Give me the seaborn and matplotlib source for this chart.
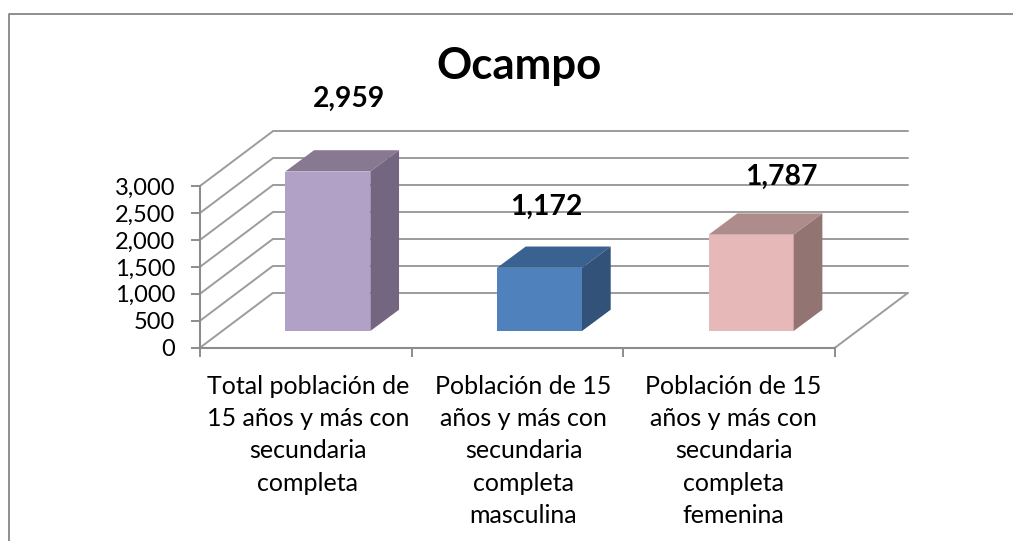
import matplotlib
matplotlib.use("Agg")
import matplotlib.pyplot as plt
import seaborn as sns
from matplotlib.lines import Line2D
from matplotlib.patches import Polygon

title = "Ocampo"
categories = [
    "Total población de\n15 años y más con\nsecundaria\ncompleta",
    "Población de 15\naños y más con\nsecundaria\ncompleta\nmasculina",
    "Población de 15\naños y más con\nsecundaria\ncompleta\nfemenina",
]
values = [2959, 1172, 1787]
value_labels = ["2,959", "1,172", "1,787"]
y_ticks = [0, 500, 1000, 1500, 2000, 2500, 3000]
face_colors = ["#B2A1C7", "#4F81BD", "#E6B9B8"]
top_colors = ["#897892", "#3A6291", "#AE8C8B"]
side_colors = ["#746580", "#33527A", "#927472"]

W, H = 1013, 541
sns.set_theme(style="white")
plt.rcParams["font.family"] = ["Lato", "DejaVu Sans"]
fig = plt.figure(figsize=(W / 100, H / 100), dpi=100, facecolor="white")


def box(x0, y_bottom, w, h):
    return [x0 / W, (H - y_bottom) / H, w / W, h / H]


PLOT_W, PLOT_H = 635.0, 161.7
GRID = "#9C9C9C"
AXIS = "#8C8C8C"

# Front plane of the chart box: holds axis, ticks, walls
ax = fig.add_axes(box(200, 347.7, PLOT_W, PLOT_H), zorder=1)
ax.set_xlim(-0.5, 2.5)
ax.set_ylim(0, 3000)
ax.patch.set_alpha(0)
sns.despine(ax=ax, top=True, right=True)
for s in ("left", "bottom"):
    ax.spines[s].set_color(AXIS)
    ax.spines[s].set_linewidth(1.5)

px_x = 3 / PLOT_W       # data units per pixel
px_y = 3000 / PLOT_H
wall_dx, wall_dy = 72.5 * px_x, 54.5 * px_y

for v in y_ticks:
    ax.plot([-0.5, -0.5 + wall_dx], [v, v + wall_dy], color=GRID, lw=1.4, clip_on=False, zorder=1)
    ax.plot([-0.5 + wall_dx, 2.5 + wall_dx], [v + wall_dy, v + wall_dy], color=GRID, lw=1.4, clip_on=False, zorder=1)
ax.plot([2.5, 2.5 + wall_dx], [0, wall_dy], color=GRID, lw=1.4, clip_on=False, zorder=1)

ax.set_yticks(y_ticks)
ax.set_yticklabels([f"{v:,}" for v in y_ticks], fontsize=17, color="black")
ax.set_xticks([-0.5, 0.5, 1.5, 2.5])
ax.set_xticklabels([])
ax.tick_params(axis="y", length=6.5, width=1.4, color=AXIS, direction="out", left=True, pad=11.5)
ax.tick_params(axis="x", length=6.5, width=1.4, color=AXIS, direction="out", bottom=True)

# Category labels under the axis
label_shift = [2, 6, 4.5]
for i, text in enumerate(categories):
    ax.annotate(text, xy=(i, 0), xycoords="data", xytext=(label_shift[i] * 0.72, -19.5),
                textcoords="offset points", ha="center", va="top", fontsize=18,
                linespacing=1.49, color="black", annotation_clip=False)

# Bars live in an axes shifted to mid-depth of the floor
ax_bar = fig.add_axes(box(222, 331, PLOT_W, PLOT_H), zorder=2)
ax_bar.patch.set_alpha(0)
sns.barplot(x=categories, y=values, hue=categories, palette=face_colors, legend=False,
            width=85 / 211.67, ax=ax_bar, saturation=1, linewidth=0)
ax_bar.set_xlim(-0.5, 2.5)
ax_bar.set_ylim(0, 3000)
ax_bar.axis("off")
bars = list(ax_bar.patches)

depth_x, depth_y = 28.7 * px_x, 21.3 * px_y
for i, bar in enumerate(bars):
    x0, w, h = bar.get_x(), bar.get_width(), bar.get_height()
    x1 = x0 + w
    ax_bar.add_patch(Polygon([(x0, h), (x1, h), (x1 + depth_x, h + depth_y), (x0 + depth_x, h + depth_y)],
                             closed=True, facecolor=top_colors[i], edgecolor="none", clip_on=False))
    ax_bar.add_patch(Polygon([(x1, 0), (x1 + depth_x, depth_y), (x1 + depth_x, h + depth_y), (x1, h)],
                             closed=True, facecolor=side_colors[i], edgecolor="none", clip_on=False))

# Value labels: pixel offsets from the bar's top-front centre
label_offset = [(21.5, 73), (7, 61), (30.5, 58)]
for i, bar in enumerate(bars):
    dx, dy = label_offset[i]
    ax_bar.annotate(value_labels[i], xy=(bar.get_x() + bar.get_width() / 2, bar.get_height()),
                    xytext=(dx * 0.72, dy * 0.72), textcoords="offset points",
                    ha="center", va="center", fontsize=20.3, fontweight="bold",
                    color="black", annotation_clip=False, zorder=6)

fig.text(518.5 / W, 1 - 66 / H, title, ha="center", va="center", fontsize=31.5, fontweight="bold", color="black")

# Outer chart frame, cut off by the image edge
fig.add_artist(Line2D([8.5 / W, 8.5 / W, 1], [0, 1 - 13.5 / H, 1 - 13.5 / H], color="#868686", lw=1.3))

fig.savefig("out.png", dpi=100, facecolor="white")
